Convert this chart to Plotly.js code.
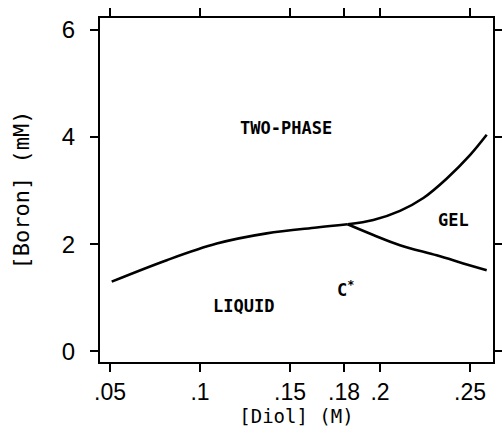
<!DOCTYPE html>
<html><head><meta charset="utf-8">
<script src="https://cdn.plot.ly/plotly-3.0.1.min.js"></script>
<style>html,body{margin:0;padding:0;background:#fff;}#chart{width:502px;height:433px;}</style>
</head><body><div id="chart"></div>
<script>
// Lower boundary (liquid / two-phase) up to C*
const mainX = [0.0509, 0.0815, 0.1093, 0.1370, 0.1648, 0.1820];
const mainY = [1.30, 1.70, 2.01, 2.20, 2.31, 2.37];
// Upper branch (two-phase / gel)
const upperX = [0.1820, 0.1963, 0.2111, 0.2241, 0.2370, 0.2500, 0.2593];
const upperY = [2.37, 2.45, 2.62, 2.86, 3.22, 3.66, 4.04];
// Lower branch (gel / liquid)
const lowerX = [0.1820, 0.1963, 0.2111, 0.2315, 0.2463, 0.2593];
const lowerY = [2.37, 2.17, 1.98, 1.79, 1.64, 1.51];
const xTicks = [0.05, 0.1, 0.15, 0.18, 0.2, 0.25];
const xTickText = ['.05', '.1', '.15', '.18', '.2', '.25'];
const yTicks = [0, 2, 4, 6];
const labels = ['TWO-PHASE', 'GEL', 'LIQUID', 'C<sup>*</sup>'];
const labelX = [0.148, 0.241, 0.124, 0.181];
const labelY = [4.17, 2.45, 0.84, 1.17];

const lineStyle = {color: '#000', width: 2.6, shape: 'spline', smoothing: 1.0};
const traces = [
  {x: mainX, y: mainY, mode: 'lines', line: lineStyle, hoverinfo: 'skip'},
  {x: upperX, y: upperY, mode: 'lines', line: lineStyle, hoverinfo: 'skip'},
  {x: lowerX, y: lowerY, mode: 'lines', line: lineStyle, hoverinfo: 'skip'}
];
const annFont = {family: 'DejaVu Sans Mono', size: 17, color: '#000', weight: 'bold'};
const annotations = labels.map((t, i) => ({
  x: labelX[i], y: labelY[i], text: t, showarrow: false,
  font: annFont, xanchor: 'center', yanchor: 'middle'
}));
const layout = {
  width: 502, height: 433,
  margin: {l: 100, r: 9, t: 18, b: 71},
  paper_bgcolor: '#fff', plot_bgcolor: '#fff',
  showlegend: false,
  xaxis: {
    range: [0.0444, 0.2628], tickvals: xTicks, ticktext: xTickText,
    ticks: 'outside', ticklen: 8, tickwidth: 2, tickcolor: '#000',
    showline: true, linecolor: '#000', linewidth: 2, mirror: 'ticks',
    showgrid: false, zeroline: false,
    tickfont: {family: 'Liberation Sans, Arial', size: 23, color: '#000'},
    title: {text: '[Diol] (M)', font: {family: 'DejaVu Sans Mono', size: 19, color: '#000'}, standoff: 6}
  },
  yaxis: {
    range: [-0.2, 6.22], tickvals: yTicks,
    ticks: 'outside', ticklen: 8, tickwidth: 2, tickcolor: '#000',
    ticklabelstandoff: 10,
    showline: true, linecolor: '#000', linewidth: 2, mirror: 'ticks',
    showgrid: false, zeroline: false,
    tickfont: {family: 'Liberation Sans, Arial', size: 24, color: '#000'},
    title: {text: '[Boron] (mM)', font: {family: 'DejaVu Sans Mono', size: 22, color: '#000'}, standoff: 26}
  },
  annotations: annotations
};
Plotly.newPlot('chart', traces, layout, {staticPlot: true, displayModeBar: false});
</script></body></html>
